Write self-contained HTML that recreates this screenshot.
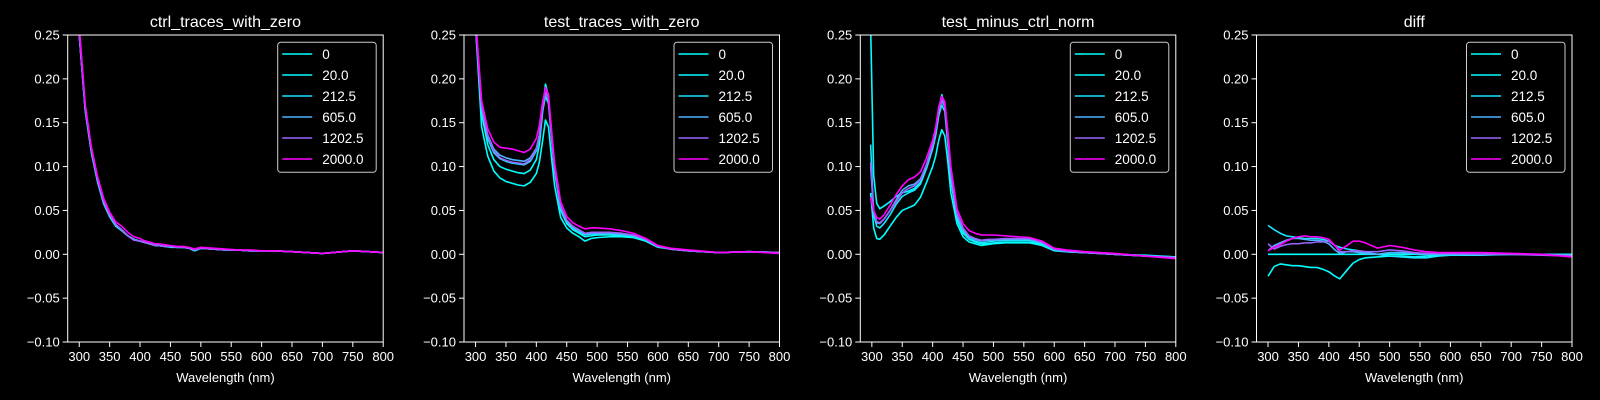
<!DOCTYPE html>
<html><head><meta charset="utf-8"><style>
html,body{margin:0;padding:0;background:#000;}
svg{display:block;font-family:"Liberation Sans","DejaVu Sans",sans-serif;}
</style></head><body>
<svg id="fig" width="1600" height="400" viewBox="0 0 1600 400" xmlns="http://www.w3.org/2000/svg">
<rect width="1600" height="400" fill="#000"/>
</svg>
<script>
const seriesLabels = ["0","20.0","212.5","605.0","1202.5","2000.0"];
const seriesColors = ["#00ffff","#03fcff","#1be4ff","#4db2ff","#9966ff","#ff00ff"];
const panelTitles = ["ctrl_traces_with_zero","test_traces_with_zero","test_minus_ctrl_norm","diff"];
const xTicks = [300,350,400,450,500,550,600,650,700,750,800];
const yTicks = [-0.10,-0.05,0.00,0.05,0.10,0.15,0.20,0.25];
const yTickLabels = ["\u22120.10","\u22120.05","0.00","0.05","0.10","0.15","0.20","0.25"];

const wl = [282,290,300,310,320,330,340,350,360,370,380,390,400,405,410,415,420,425,430,440,450,460,470,480,490,500,520,540,560,580,600,620,650,700,750,800];
const wl3 = [298,303,308,313,320,330,340,350,360,370,380,390,400,405,410,415,420,425,430,440,450,460,470,480,490,500,520,540,560,580,600,620,650,700,750,800];
const wl4 = [300,310,320,330,340,350,360,370,380,390,400,410,418,430,440,450,460,480,500,520,540,560,580,600,650,700,750,800];

const ctrl0 = [0.45,0.34,0.25,0.163,0.116,0.083,0.058,0.043,0.032,0.027,0.021,0.017,0.015,0.014,0.013,0.012,0.011,0.010,0.010,0.009,0.008,0.008,0.008,0.007,0.004,0.007,0.006,0.005,0.005,0.004,0.004,0.004,0.003,0.001,0.004,0.002];
const ctrl1 = [0.45,0.34,0.25,0.164,0.117,0.084,0.059,0.044,0.033,0.027,0.021,0.017,0.015,0.014,0.013,0.012,0.011,0.010,0.010,0.009,0.009,0.008,0.008,0.007,0.004,0.007,0.006,0.005,0.005,0.004,0.004,0.004,0.003,0.001,0.004,0.002];
const ctrl2 = [0.45,0.34,0.25,0.163,0.116,0.083,0.058,0.043,0.032,0.027,0.021,0.017,0.015,0.014,0.013,0.012,0.011,0.010,0.010,0.009,0.009,0.008,0.008,0.007,0.004,0.007,0.006,0.005,0.005,0.004,0.004,0.004,0.003,0.001,0.004,0.002];
const ctrl3 = [0.45,0.34,0.25,0.165,0.118,0.085,0.060,0.045,0.034,0.028,0.021,0.017,0.015,0.014,0.013,0.012,0.011,0.010,0.010,0.009,0.009,0.008,0.008,0.007,0.005,0.007,0.006,0.005,0.005,0.004,0.004,0.004,0.003,0.001,0.004,0.002];
const ctrl4 = [0.45,0.34,0.25,0.166,0.119,0.086,0.060,0.045,0.034,0.028,0.021,0.016,0.015,0.014,0.013,0.012,0.011,0.010,0.010,0.009,0.009,0.008,0.008,0.007,0.005,0.007,0.006,0.005,0.005,0.004,0.004,0.004,0.003,0.001,0.004,0.002];
const ctrl5 = [0.45,0.35,0.26,0.170,0.122,0.089,0.064,0.048,0.037,0.032,0.025,0.020,0.018,0.016,0.015,0.014,0.013,0.012,0.012,0.011,0.010,0.009,0.009,0.008,0.006,0.008,0.007,0.006,0.005,0.005,0.004,0.004,0.003,0.001,0.004,0.002];

const test0 = [0.45,0.36,0.26,0.145,0.112,0.095,0.087,0.083,0.081,0.079,0.078,0.082,0.092,0.105,0.128,0.153,0.145,0.110,0.078,0.042,0.030,0.024,0.020,0.015,0.018,0.019,0.020,0.020,0.019,0.015,0.008,0.006,0.004,0.002,0.003,0.002];
const test1 = [0.45,0.36,0.26,0.160,0.125,0.108,0.100,0.097,0.095,0.093,0.092,0.096,0.108,0.125,0.160,0.194,0.180,0.135,0.095,0.050,0.035,0.028,0.024,0.020,0.021,0.022,0.022,0.021,0.020,0.016,0.009,0.006,0.004,0.002,0.003,0.002];
const test2 = [0.45,0.36,0.26,0.165,0.132,0.116,0.109,0.106,0.104,0.103,0.102,0.106,0.118,0.133,0.162,0.180,0.172,0.132,0.095,0.052,0.037,0.030,0.026,0.022,0.023,0.023,0.023,0.022,0.021,0.017,0.009,0.006,0.004,0.002,0.003,0.002];
const test3 = [0.45,0.36,0.26,0.168,0.136,0.120,0.113,0.110,0.108,0.107,0.106,0.110,0.121,0.136,0.165,0.185,0.176,0.135,0.097,0.054,0.038,0.031,0.027,0.023,0.024,0.024,0.024,0.023,0.021,0.017,0.009,0.006,0.004,0.002,0.003,0.002];
const test4 = [0.45,0.36,0.26,0.168,0.135,0.118,0.110,0.107,0.105,0.104,0.103,0.108,0.120,0.136,0.166,0.185,0.177,0.136,0.098,0.055,0.039,0.032,0.028,0.024,0.025,0.025,0.025,0.024,0.022,0.017,0.009,0.006,0.004,0.002,0.003,0.002];
const test5 = [0.45,0.37,0.27,0.175,0.143,0.128,0.122,0.121,0.120,0.118,0.116,0.120,0.132,0.147,0.172,0.190,0.182,0.142,0.104,0.060,0.043,0.036,0.032,0.029,0.030,0.030,0.029,0.027,0.024,0.018,0.010,0.007,0.005,0.002,0.003,0.001];

const norm0 = [0.070,0.030,0.018,0.017,0.022,0.032,0.042,0.050,0.053,0.056,0.065,0.082,0.100,0.112,0.130,0.142,0.135,0.105,0.070,0.035,0.020,0.014,0.012,0.010,0.011,0.012,0.013,0.013,0.013,0.010,0.004,0.003,0.002,0.000,-0.002,-0.003];
const norm1 = [0.260,0.090,0.058,0.052,0.055,0.060,0.066,0.070,0.072,0.075,0.082,0.100,0.125,0.140,0.165,0.182,0.170,0.128,0.085,0.040,0.024,0.017,0.014,0.012,0.012,0.013,0.014,0.014,0.014,0.011,0.005,0.003,0.002,0.000,-0.001,-0.003];
const norm2 = [0.125,0.045,0.032,0.030,0.035,0.045,0.057,0.066,0.070,0.073,0.080,0.098,0.120,0.135,0.158,0.170,0.163,0.125,0.085,0.042,0.026,0.018,0.015,0.013,0.014,0.015,0.016,0.016,0.016,0.012,0.005,0.003,0.002,0.000,-0.002,-0.003];
const norm3 = [0.100,0.048,0.036,0.035,0.040,0.050,0.062,0.073,0.078,0.080,0.086,0.102,0.124,0.140,0.163,0.175,0.168,0.130,0.090,0.045,0.028,0.020,0.017,0.015,0.016,0.016,0.017,0.017,0.017,0.013,0.005,0.003,0.002,0.000,-0.002,-0.003];
const norm4 = [0.105,0.050,0.037,0.036,0.040,0.050,0.060,0.070,0.075,0.078,0.085,0.103,0.126,0.142,0.165,0.177,0.170,0.132,0.092,0.047,0.030,0.021,0.018,0.016,0.017,0.017,0.018,0.018,0.018,0.014,0.006,0.004,0.002,0.000,-0.002,-0.004];
const norm5 = [0.065,0.050,0.042,0.040,0.045,0.056,0.068,0.078,0.085,0.088,0.094,0.110,0.130,0.145,0.168,0.180,0.174,0.140,0.100,0.052,0.035,0.027,0.024,0.022,0.022,0.022,0.021,0.020,0.019,0.015,0.007,0.005,0.003,0.001,-0.002,-0.005];

const diff0 = [0,0,0,0,0,0,0,0,0,0,0,0,0,0,0,0,0,0,0,0,0,0,0,0,0,0,0,0];
const diff1 = [-0.025,-0.014,-0.011,-0.012,-0.013,-0.013,-0.014,-0.015,-0.015,-0.017,-0.020,-0.025,-0.028,-0.018,-0.010,-0.006,-0.004,-0.003,-0.002,-0.002,-0.003,-0.002,-0.001,-0.001,0.000,0.000,0.000,0.000];
const diff2 = [0.033,0.028,0.024,0.021,0.020,0.019,0.018,0.018,0.018,0.017,0.015,0.010,0.008,0.006,0.005,0.004,0.002,0.000,-0.002,-0.003,-0.004,-0.004,-0.002,-0.001,-0.001,0.000,0.000,0.000];
const diff3 = [0.004,0.010,0.013,0.016,0.018,0.018,0.017,0.016,0.016,0.015,0.012,0.005,0.001,0.003,0.003,0.002,0.001,0.000,0.002,0.002,0.001,0.000,0.000,0.000,0.000,0.000,0.000,-0.001];
const diff4 = [0.012,0.006,0.009,0.011,0.012,0.012,0.013,0.013,0.014,0.014,0.015,0.010,0.003,0.003,0.004,0.004,0.003,0.003,0.005,0.004,0.002,0.001,0.001,0.001,0.000,0.000,-0.001,-0.002];
const diff5 = [0.004,0.008,0.011,0.015,0.018,0.020,0.021,0.020,0.020,0.019,0.017,0.010,0.005,0.010,0.015,0.015,0.013,0.007,0.010,0.008,0.005,0.003,0.002,0.002,0.002,0.001,0.000,-0.003];

const panels = [
  {x: wl,  ys: [ctrl0,ctrl1,ctrl2,ctrl3,ctrl4,ctrl5]},
  {x: wl,  ys: [test0,test1,test2,test3,test4,test5]},
  {x: wl3, ys: [norm0,norm1,norm2,norm3,norm4,norm5]},
  {x: wl4, ys: [diff0,diff1,diff2,diff3,diff4,diff5]}
];

const NS = "http://www.w3.org/2000/svg";
const fig = document.getElementById("fig");
function mk(tag, attrs, parent){
  const e = document.createElementNS(NS, tag);
  for (const k in attrs) e.setAttribute(k, attrs[k]);
  (parent||fig).appendChild(e);
  return e;
}
const XMIN = 281, XMAX = 800, YMIN = -0.10, YMAX = 0.25;
const LEFTS = [67.7, 464, 860.3, 1256.5];
const W = 315.5, TOP = 35, BOT = 342;
const defs = mk("defs", {});

panels.forEach((p, pi) => {
  const L = LEFTS[pi], R = L + W;
  const xs = v => L + (v - XMIN) / (XMAX - XMIN) * W;
  const ys = v => BOT - (v - YMIN) / (YMAX - YMIN) * (BOT - TOP);
  const g = mk("g", {});
  
  
  const cp = mk("clipPath", {id: "clip" + pi}, defs);
  mk("rect", {x: L, y: TOP, width: W, height: BOT - TOP}, cp);

  const title = mk("text", {x: L + W/2, y: 27, fill: "#fff", "font-size": "16", "text-anchor": "middle"}, g);
  title.textContent = panelTitles[pi];
  
  

  // series
  p.ys.forEach((arr, si) => {
    const d = arr.map((v, i) => (i ? "L" : "M") + xs(p.x[i]).toFixed(2) + "," + ys(v).toFixed(2)).join("");
    const path = mk("path", {d: d, fill: "none", stroke: seriesColors[si], "stroke-width": "1.6", "clip-path": "url(#clip" + pi + ")", "stroke-linejoin": "round"}, g);
    
    
  });

  // spines
  const frame = mk("rect", {x: L, y: TOP, width: W, height: BOT - TOP, fill: "none", stroke: "#fff", "stroke-width": "1"}, g);
  
  

  // x ticks
  xTicks.forEach(t => {
    const x = xs(t);
    mk("line", {x1: x, x2: x, y1: BOT, y2: BOT + 5, stroke: "#fff", "stroke-width": "1"}, g);
    const tl = mk("text", {x: x, y: BOT + 19, fill: "#fff", "font-size": "13", "text-anchor": "middle"}, g);
    tl.textContent = t;
    
    
  });
  yTicks.forEach((t, i) => {
    const y = ys(t);
    mk("line", {x1: L - 5, x2: L, y1: y, y2: y, stroke: "#fff", "stroke-width": "1"}, g);
    const tl = mk("text", {x: L - 8, y: y + 4.5, fill: "#fff", "font-size": "13", "text-anchor": "end"}, g);
    tl.textContent = yTickLabels[i];
    
    
  });
  const xl = mk("text", {x: L + W/2, y: 382, fill: "#fff", "font-size": "13", "text-anchor": "middle"}, g);
  xl.textContent = "Wavelength (nm)";
  
  

  // legend
  const lg = mk("g", {}, g);
  
  
  const bx = R - 105.5, by = TOP + 7.3;
  mk("rect", {x: bx, y: by, width: 98.5, height: 130, rx: 3, fill: "#000", "fill-opacity": "0.8", stroke: "#ccc", "stroke-width": "1"}, lg);
  seriesLabels.forEach((lab, si) => {
    const ry = by + 11.7 + 21 * si;
    const ent = mk("g", {}, lg);
    
    
    mk("line", {x1: bx + 4.5, x2: bx + 34.5, y1: ry, y2: ry, stroke: seriesColors[si], "stroke-width": "1.6"}, ent);
    const t = mk("text", {x: bx + 44.5, y: ry + 5, fill: "#fff", "font-size": "13.5"}, ent);
    t.textContent = lab;
  });
});
</script>
</body></html>
